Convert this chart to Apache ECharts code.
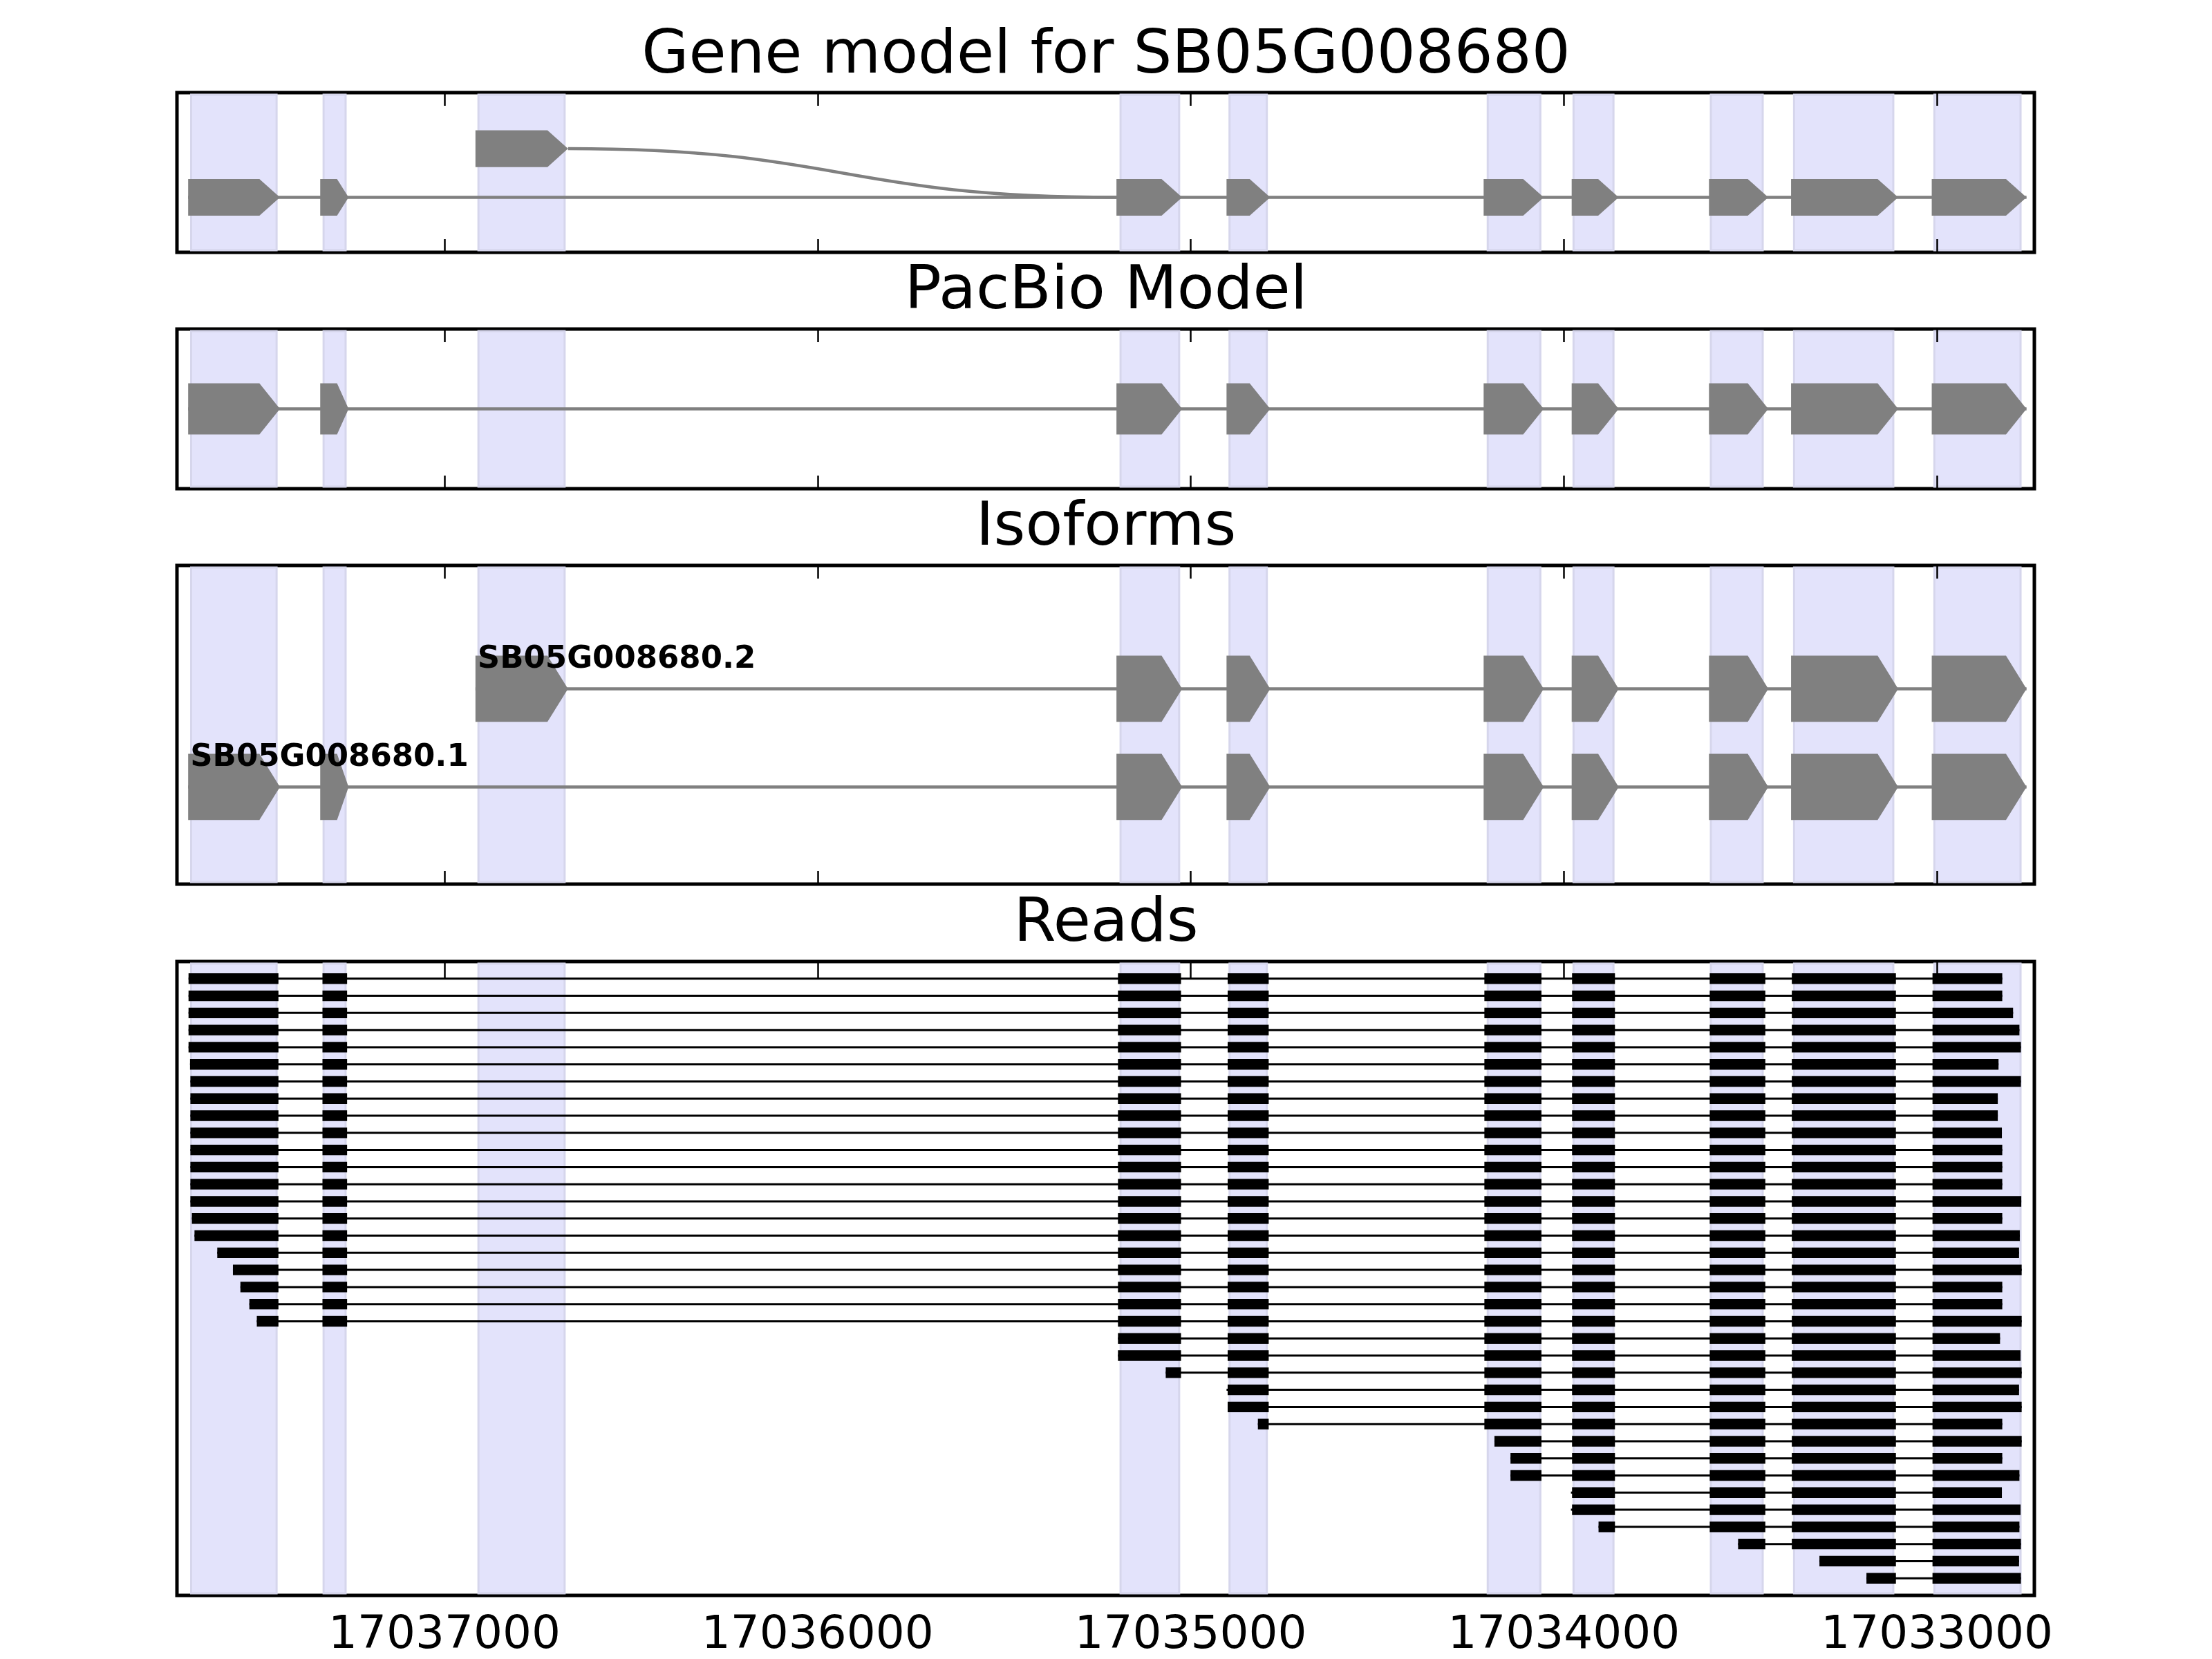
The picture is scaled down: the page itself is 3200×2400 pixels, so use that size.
<!DOCTYPE html>
<html>
<head>
<meta charset="utf-8">
<title>Gene model for SB05G008680</title>
<script src="https://cdn.jsdelivr.net/npm/echarts@6.0.0/dist/echarts.min.js"></script>
<style>
    html, body { margin: 0; padding: 0; background: #fff; }
    #chart { width: 3200px; height: 2400px; }
</style>
</head>
<body>
<div id="chart"></div>
<script>
'use strict';

// x range of the plot (genomic coordinates, drawn right-to-left)
var xMin = 17032739;
var xMax = 17037717;
var tickValues = [17037000, 17036000, 17035000, 17034000, 17033000];

// exons of the gene model (start is the high coordinate)
var exonStart = [17037687, 17037333, 17036917, 17035199, 17034904, 17034215, 17033979, 17033611, 17033391, 17033014];
var exonEnd   = [17037441, 17037257, 17036669, 17035023, 17034787, 17034054, 17033853, 17033452, 17033104, 17032760];
var iso1Exons = [0, 1, 3, 4, 5, 6, 7, 8, 9];
var iso2Exons = [2, 3, 4, 5, 6, 7, 8, 9];
var isoformNames = ['SB05G008680.1', 'SB05G008680.2'];

// shaded exon bands
var shadeStart = [17037679, 17037324, 17036909, 17035188, 17034896, 17034204, 17033974, 17033606, 17033383, 17033007];
var shadeEnd   = [17037450, 17037265, 17036678, 17035031, 17034796, 17034063, 17033867, 17033467, 17033117, 17032776];

// exon blocks used by the reads
var readExonStart = [17037686, 17037327, 17035195, 17034901, 17034213, 17033978, 17033609, 17033389, 17033012];
var readExonEnd   = [17037445, 17037261, 17035026, 17034791, 17034060, 17033863, 17033460, 17033110, 17032760];

// read extents, top row first
var readStart = [17037686, 17037686, 17037686, 17037686, 17037686, 17037682, 17037681, 17037681, 17037681,
                 17037681, 17037681, 17037681, 17037681, 17037681, 17037677, 17037670, 17037609, 17037567,
                 17037547, 17037523, 17037503, 17035195, 17035195, 17035067, 17034904, 17034901, 17034820,
                 17034186, 17034143, 17034143, 17033981, 17033981, 17033907, 17033533, 17033315, 17033189];
var readEnd   = [17032825, 17032825, 17032796, 17032779, 17032775, 17032835, 17032775, 17032837, 17032837,
                 17032826, 17032825, 17032825, 17032825, 17032774, 17032825, 17032778, 17032780, 17032773,
                 17032825, 17032825, 17032773, 17032831, 17032776, 17032773, 17032780, 17032773, 17032825,
                 17032773, 17032825, 17032779, 17032826, 17032776, 17032779, 17032775, 17032780, 17032775];

var GRAY = '#808080';
var FONT = 'DejaVu Sans';

var grids = [
    {top: 134, height: 231},
    {top: 476, height: 231},
    {top: 818, height: 461},
    {top: 1391, height: 920}
];

var myChart = echarts.init(document.getElementById('chart'), null, {renderer: 'canvas'});

// 灰色外显子箭头
function arrowItem(params, api) {
    var s = api.value(0), e = api.value(1), yc = api.value(2), h = api.value(3);
    var a = api.coord([s, yc]);
    var b = api.coord([e, yc]);
    var hh = api.size([0, h])[1] / 2;
    var headBp = Math.min(55, (s - e) - 45);
    var head = api.size([headBp, 0])[0];
    return {
        type: 'polygon',
        shape: {points: [
            [a[0], a[1] - hh], [b[0] - head, a[1] - hh], [b[0], a[1]],
            [b[0] - head, a[1] + hh], [a[0], a[1] + hh]
        ]},
        style: {fill: GRAY}
    };
}

function shadeSeries(g, yVal) {
    return {
        type: 'custom',
        xAxisIndex: g * 2, yAxisIndex: g,
        silent: true,
        data: shadeStart.map(function (s, i) { return [s, shadeEnd[i]]; }),
        renderItem: function (params, api) {
            var cs = params.coordSys;
            var p1 = api.coord([api.value(0), yVal]);
            var p2 = api.coord([api.value(1), yVal]);
            return {
                type: 'rect',
                shape: {x: Math.min(p1[0], p2[0]), y: cs.y + 3, width: Math.abs(p2[0] - p1[0]), height: cs.height - 6},
                style: {fill: '#e3e3fb', stroke: '#d6d6ec', lineWidth: 3}
            };
        }
    };
}

function intronSeries(g, x1, x2, yc) {
    return {
        type: 'custom',
        xAxisIndex: g * 2, yAxisIndex: g,
        silent: true,
        data: [[x1, x2, yc]],
        renderItem: function (params, api) {
            var a = api.coord([api.value(0), api.value(2)]);
            var b = api.coord([api.value(1), api.value(2)]);
            return {type: 'line', shape: {x1: a[0], y1: a[1], x2: b[0], y2: b[1]},
                    style: {stroke: GRAY, lineWidth: 4.5}};
        }
    };
}

function exonSeries(g, list, yc, h) {
    return {
        type: 'custom',
        xAxisIndex: g * 2, yAxisIndex: g,
        silent: true,
        data: list.map(function (k) { return [exonStart[k], exonEnd[k], yc, h]; }),
        renderItem: arrowItem
    };
}

function transcript(g, list, yc, h) {
    return [
        intronSeries(g, exonStart[list[0]], exonEnd[list[list.length - 1]], yc),
        exonSeries(g, list, yc, h)
    ];
}

var series = [];
for (var g = 0; g < 4; g++) {
    series.push(shadeSeries(g, g === 3 ? 0 : 0.5));
}

// panel 1: gene model with the alternative exon joined by a curve
series = series.concat(transcript(0, iso1Exons, 0.344, 0.23));
series.push({
    type: 'custom',
    xAxisIndex: 0, yAxisIndex: 0,
    silent: true,
    data: [[exonEnd[2], 0.649, exonStart[3], 0.344]],
    renderItem: function (params, api) {
        var a = api.coord([api.value(0), api.value(1)]);
        var b = api.coord([api.value(2), api.value(3)]);
        var mx = (a[0] + b[0]) / 2;
        return {type: 'bezierCurve',
                shape: {x1: a[0], y1: a[1], cpx1: mx, cpy1: a[1], cpx2: mx, cpy2: b[1], x2: b[0], y2: b[1]},
                style: {stroke: GRAY, lineWidth: 4.5, fill: null}};
    }
});
series.push(exonSeries(0, [2], 0.649, 0.23));

// panel 2: PacBio model
series = series.concat(transcript(1, iso1Exons, 0.5, 0.32));

// panel 3: isoforms
series = series.concat(transcript(2, iso2Exons, 0.613, 0.208));
series = series.concat(transcript(2, iso1Exons, 0.305, 0.208));
series.push({
    type: 'custom',
    xAxisIndex: 4, yAxisIndex: 2,
    silent: true,
    data: [[exonStart[iso1Exons[0]], 0.305 + 0.104, 0], [exonStart[iso2Exons[0]], 0.613 + 0.104, 1]],
    renderItem: function (params, api) {
        var p = api.coord([api.value(0), api.value(1)]);
        return {type: 'text', x: p[0] + 3, y: p[1] + 6,
                style: {text: isoformNames[api.value(2)], fill: '#000',
                        font: 'bold 45px "DejaVu Sans"', align: 'left', verticalAlign: 'middle'}};
    }
});

// panel 4: reads
series.push({
    type: 'custom',
    xAxisIndex: 6, yAxisIndex: 3,
    silent: true,
    data: readStart.map(function (s, i) { return [s, readEnd[i], i]; }),
    renderItem: function (params, api) {
        var s = api.value(0), e = api.value(1), row = api.value(2);
        var a = api.coord([s, row]);
        var b = api.coord([e, row]);
        var bh = api.size([0, 0.62])[1];
        var children = [{type: 'line', shape: {x1: a[0], y1: a[1], x2: b[0], y2: b[1]},
                         style: {stroke: '#000', lineWidth: 3}}];
        for (var k = 0; k < readExonStart.length; k++) {
            var bs = Math.min(readExonStart[k], s);
            var be = Math.max(readExonEnd[k], e);
            if (bs <= be) continue;
            var p1 = api.coord([bs, row]);
            var p2 = api.coord([be, row]);
            children.push({type: 'rect',
                           shape: {x: p1[0], y: p1[1] - bh / 2, width: p2[0] - p1[0], height: bh},
                           style: {fill: '#000'}});
        }
        return {type: 'group', children: children};
    }
});

var xAxes = [];
var yAxes = [];
for (var i = 0; i < 4; i++) {
    ['bottom', 'top'].forEach(function (pos) {
        xAxes.push({
            type: 'value', gridIndex: i, position: pos,
            min: xMin, max: xMax, inverse: true, z: 10,
            axisLine: {show: false},
            splitLine: {show: false},
            axisTick: {show: true, inside: true, length: 19, customValues: tickValues,
                       lineStyle: {color: '#000', width: 2.5}},
            axisLabel: {show: i === 3 && pos === 'bottom', customValues: tickValues,
                        fontFamily: FONT, fontSize: 66, lineHeight: 66, color: '#000', margin: 26,
                        formatter: function (v) { return String(v); }}
        });
    });
    yAxes.push(i === 3
        ? {type: 'value', gridIndex: i, min: -1, max: 36, inverse: true, show: false}
        : {type: 'value', gridIndex: i, min: 0, max: 1, show: false});
}

var titleStyle = {fontFamily: FONT, fontSize: 88, fontWeight: 'normal', color: '#000', lineHeight: 88};
var option = {
    backgroundColor: '#fff',
    animation: false,
    title: [
        {text: 'Gene model for SB05G008680', left: 'center', top: 38, padding: 0, textStyle: titleStyle},
        {text: 'PacBio Model', left: 'center', top: 379, padding: 0, textStyle: titleStyle},
        {text: 'Isoforms', left: 'center', top: 721, padding: 0, textStyle: titleStyle},
        {text: 'Reads', left: 'center', top: 1294, padding: 0, textStyle: titleStyle}
    ],
    grid: grids.map(function (gr) {
        return {left: 256, width: 2687, top: gr.top, height: gr.height, show: true,
                borderColor: '#000', borderWidth: 5, backgroundColor: 'transparent'};
    }),
    xAxis: xAxes,
    yAxis: yAxes,
    series: series
};
myChart.setOption(option);
</script>
</body>
</html>
